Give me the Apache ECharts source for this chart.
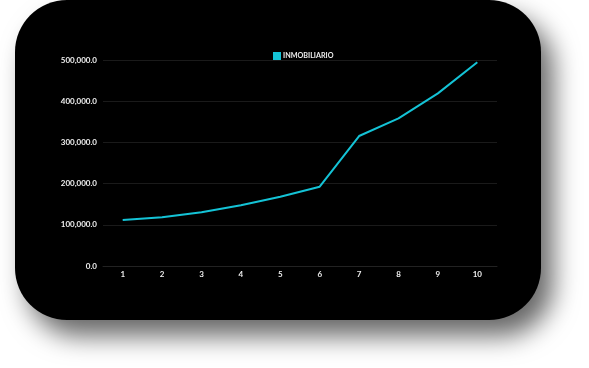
<!DOCTYPE html>
<html>
<head>
<meta charset="utf-8">
<script src="https://cdn.jsdelivr.net/npm/echarts@6/dist/echarts.min.js"></script>
<style>
  html, body { margin: 0; padding: 0; background: #ffffff; width: 589px; height: 368px; overflow: hidden; }
  #card { position: absolute; left: 15px; top: 0px; width: 526px; height: 320px; background: #000; border-radius: 52px; box-shadow: 12px 16px 26px rgba(0,0,0,0.6); }
  #chart { position: absolute; left: 0; top: 0; width: 589px; height: 368px; }
</style>
</head>
<body>
<div id="card"></div>
<div id="chart"></div>
<script>
const categories = ['1', '2', '3', '4', '5', '6', '7', '8', '9', '10'];
const seriesName = 'INMOBILIARIO';
const seriesValues = [111700, 118200, 130300, 147300, 168200, 192500, 315500, 358500, 419000, 494400];

const chart = echarts.init(document.getElementById('chart'), null, { renderer: 'canvas' });
chart.setOption({
  backgroundColor: 'transparent',
  animation: false,
  textStyle: { fontFamily: 'Lato' },
  legend: {
    data: [seriesName],
    left: 268,
    top: 47,
    itemWidth: 8,
    itemHeight: 8,
    icon: 'rect',
    textStyle: { color: '#eeeeee', fontSize: 7.2, fontWeight: 'bold', fontFamily: 'Lato', padding: [0, 0, 0, -3] }
  },
  grid: { left: 103, right: 92, top: 60, bottom: 102, containLabel: false },
  xAxis: {
    type: 'category',
    data: categories,
    boundaryGap: true,
    axisLine: { show: true, lineStyle: { color: '#222222', width: 1 } },
    axisTick: { show: false },
    axisLabel: { color: '#eeeeee', fontSize: 8, fontWeight: 'bold', margin: 4 }
  },
  yAxis: {
    type: 'value',
    min: 0,
    max: 500000,
    interval: 100000,
    axisLine: { show: false },
    axisTick: { show: false },
    splitLine: { lineStyle: { color: '#1a1a1a', width: 1 } },
    axisLabel: {
      color: '#eeeeee', fontSize: 8, fontWeight: 'bold', margin: 6,
      formatter: v => v.toLocaleString('en-US', { minimumFractionDigits: 1, maximumFractionDigits: 1 })
    }
  },
  series: [{
    name: seriesName,
    type: 'line',
    data: seriesValues,
    symbol: 'none',
    itemStyle: { color: '#14c3d6' },
    lineStyle: { color: '#14c3d6', width: 2 }
  }]
});
</script>
</body>
</html>
